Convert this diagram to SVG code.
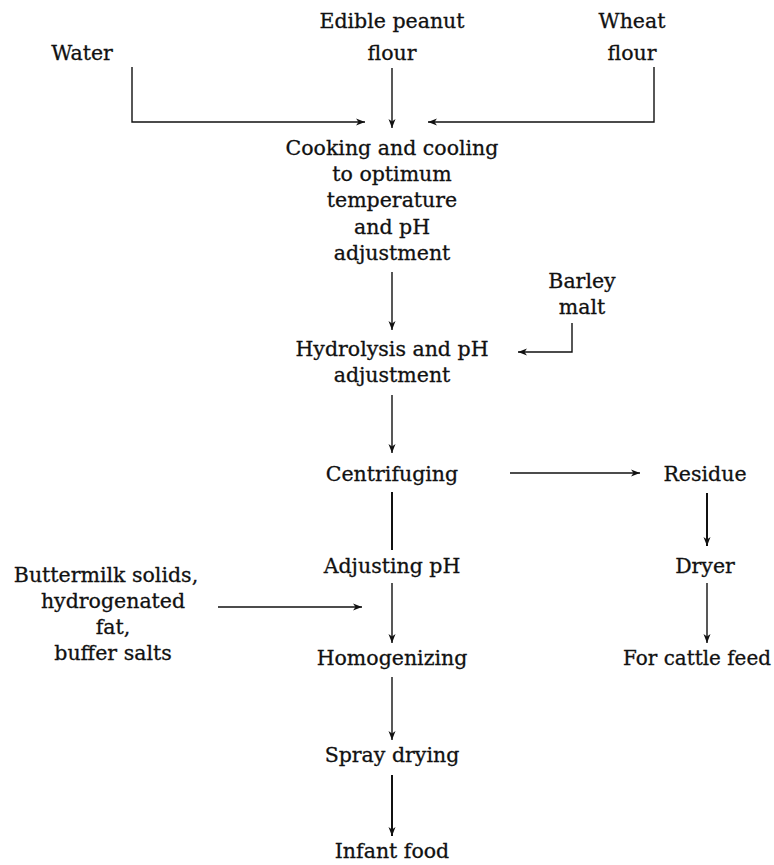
<svg xmlns="http://www.w3.org/2000/svg" width="774" height="865" viewBox="0 0 774 865">
<defs>
<style>
text{font-family:"DejaVu Serif","Liberation Serif",serif;font-size:20.5px;fill:#111;stroke:#111;stroke-width:0.3;text-anchor:middle}
.c line,.c path{stroke:#111;stroke-width:1.4;fill:none}
.thick{stroke-width:2!important}
</style>
<marker id="a" markerWidth="10" markerHeight="8" refX="9" refY="4" orient="auto" markerUnits="userSpaceOnUse">
<path d="M0,0.5 L9,4 L0,7.5 L2.5,4 Z" fill="#111"/>
</marker>
</defs>
<rect width="774" height="865" fill="#fff"/>
<g id="water"><text x="82" y="60">Water</text></g>
<g id="peanut"><text x="392" y="28">Edible peanut</text><text x="392" y="60">flour</text></g>
<g id="wheat"><text x="632" y="28">Wheat</text><text x="632" y="60">flour</text></g>
<g id="cooking"><text x="392" y="155">Cooking and cooling</text><text x="392" y="181">to optimum</text><text x="392" y="207">temperature</text><text x="392" y="234">and pH</text><text x="392" y="260">adjustment</text></g>
<g id="barley"><text x="582" y="288">Barley</text><text x="582" y="314">malt</text></g>
<g id="hydrolysis"><text x="392" y="356">Hydrolysis and pH</text><text x="392" y="382">adjustment</text></g>
<g id="centrifuging"><text x="392" y="481">Centrifuging</text></g>
<g id="residue"><text x="705" y="481">Residue</text></g>
<g id="adjusting"><text x="392" y="573">Adjusting pH</text></g>
<g id="dryer"><text x="705" y="573">Dryer</text></g>
<g id="buttermilk"><text x="106" y="582">Buttermilk solids,</text><text x="113" y="608">hydrogenated</text><text x="113" y="634">fat,</text><text x="113" y="660">buffer salts</text></g>
<g id="homogenizing"><text x="392" y="665">Homogenizing</text></g>
<g id="cattle"><text x="697" y="665" textLength="148" lengthAdjust="spacingAndGlyphs">For cattle feed</text></g>
<g id="spray"><text x="392" y="762">Spray drying</text></g>
<g id="infant"><text x="392" y="858">Infant food</text></g>
<g class="c" id="connectors">
<path d="M132,67 V122 H365" marker-end="url(#a)"/>
<line x1="392" y1="68" x2="392" y2="128" marker-end="url(#a)"/>
<path d="M654,67 V122 H428" marker-end="url(#a)"/>
<line x1="392" y1="272" x2="392" y2="330" marker-end="url(#a)"/>
<path d="M572,323 V352 H518" marker-end="url(#a)"/>
<line x1="392" y1="395" x2="392" y2="453" marker-end="url(#a)"/>
<line x1="510" y1="473" x2="640" y2="473" marker-end="url(#a)"/>
<line class="thick" x1="707" y1="493" x2="707" y2="546" marker-end="url(#a)"/>
<line class="thick" x1="392" y1="492" x2="392" y2="550"/>
<line x1="218" y1="607" x2="362" y2="607" marker-end="url(#a)"/>
<line x1="392" y1="583" x2="392" y2="643" marker-end="url(#a)"/>
<line x1="707" y1="583" x2="707" y2="643" marker-end="url(#a)"/>
<line x1="392" y1="677" x2="392" y2="740" marker-end="url(#a)"/>
<line class="thick" x1="392" y1="775" x2="392" y2="836" marker-end="url(#a)"/>
</g>
</svg>
